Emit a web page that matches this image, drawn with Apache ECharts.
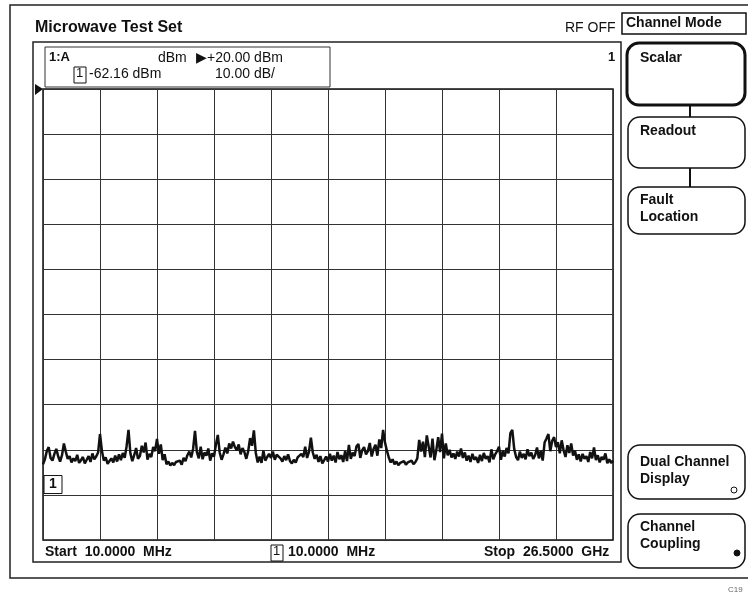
<!DOCTYPE html>
<html>
<head>
<meta charset="utf-8">
<title>Microwave Test Set</title>
<script src="https://cdn.jsdelivr.net/npm/echarts@6/dist/echarts.min.js"></script>
<style>
  html, body { margin: 0; padding: 0; background: #fff; }
  #chart { width: 748px; height: 598px; }
</style>
</head>
<body>
<div id="chart"></div>
<script>
// trace 1:A, dBm (301 points, start..stop)
var traceA = [
  -63.2, -62.1, -60.3, -59.4, -61.8, -62.4, -60.9, -59.8, -61.5, -62.6, -61.2, -58.6, -60.4, -62.0, -61.4, -62.8, -61.9, -62.5, -61.1, -62.9, -62.3, -61.6, -63.0, -62.2, -61.4, -62.7, -60.8, -62.1, -61.5, -60.6,
  -56.5, -60.2, -62.4, -61.7, -63.1, -62.5, -61.9, -62.8, -61.3, -62.6, -61.0, -62.3, -60.7, -61.8, -59.2, -55.6, -60.8, -62.5, -61.2, -59.6, -62.0, -61.4, -59.1, -60.6, -58.4, -62.2, -60.9, -61.6, -59.4, -60.3,
  -57.6, -60.9, -58.8, -62.3, -61.0, -63.2, -62.6, -63.5, -62.9, -63.4, -62.7, -63.1, -62.4, -63.3, -61.8, -62.5, -61.2, -60.4, -61.7, -59.8, -55.8, -60.5, -61.9, -59.3, -62.1, -60.6, -61.3, -59.7, -62.4, -60.8,
  -61.5, -58.9, -56.7, -60.6, -62.2, -61.0, -59.5, -60.8, -58.6, -59.7, -58.2, -59.4, -60.1, -58.8, -61.0, -59.6, -60.5, -62.0, -60.3, -57.4, -59.1, -55.7, -60.7, -62.8, -61.5, -62.9, -60.2, -62.4, -61.6, -60.9,
  -61.8, -60.4, -62.2, -61.1, -60.7, -61.9, -62.6, -61.4, -62.3, -61.0, -62.5, -63.0, -62.2, -62.8, -61.7, -62.1, -60.9, -61.6, -59.3, -61.8, -60.4, -57.3, -60.6, -62.0, -61.1, -62.7, -61.4, -63.0, -62.3, -61.5,
  -62.6, -60.9, -62.4, -61.3, -62.8, -60.5, -62.1, -61.2, -62.7, -60.3, -62.5, -58.9, -62.0, -60.6, -61.4, -59.2, -58.7, -61.8, -60.1, -59.4, -61.0, -60.3, -58.5, -61.5, -59.8, -58.9, -61.3, -57.7, -59.6, -55.6,
  -58.4, -60.2, -61.7, -62.8, -62.1, -63.2, -62.6, -63.4, -62.9, -63.1, -62.5, -63.3, -62.8, -63.0, -62.4, -63.2, -62.7, -61.9, -57.8, -60.4, -58.2, -61.6, -56.8, -59.3, -61.7, -57.5, -62.3, -60.1, -57.2, -60.5,
  -56.4, -61.9, -58.6, -61.2, -60.0, -61.7, -60.8, -62.0, -60.4, -61.5, -59.7, -61.8, -60.6, -62.4, -61.3, -62.7, -60.9, -62.2, -61.6, -62.9, -61.1, -62.5, -60.7, -62.0, -61.4, -62.8, -59.9, -62.1, -61.0, -60.3,
  -59.3, -62.2, -60.2, -61.5, -59.6, -60.8, -56.3, -55.6, -59.8, -61.6, -62.3, -60.4, -61.8, -60.9, -62.1, -59.9, -61.4, -60.6, -62.0, -61.2, -59.5, -61.9, -60.2, -62.4, -58.4, -57.5, -56.5, -60.3, -58.0, -57.2,
  -59.4, -58.3, -60.8, -57.9, -60.1, -61.6, -59.0, -60.7, -58.6, -61.3, -60.2, -62.2, -61.0, -62.6, -60.9, -62.0, -61.4, -62.7, -60.5, -61.9, -59.5, -62.3, -61.2, -62.8, -61.6, -62.2, -60.8, -63.0, -62.1, -62.9,
  -62.4
];

// screen scale: reference level at top, 10 dB per division
var refLevel = 20;
var scaleDiv = 10;
var divisions = 10;
var markerValue = -62.16;

// header / footer strings
var startLabel = 'Start  10.0000  MHz';
var markerFreqLabel = '10.0000  MHz';
var stopLabel = 'Stop  26.5000  GHz';

var font = '"Liberation Sans", Arial, sans-serif';

var myChart = echarts.init(document.getElementById('chart'), null, { renderer: 'canvas' });

var points = traceA.map(function (v, i) { return [i, v]; });
var lastIdx = traceA.length - 1;

// text helper
function txt(x, y, s, size, bold, extra) {
  var t = {
    type: 'text', left: x, top: y, z: 10,
    style: {
      text: s, fill: '#111',
      font: (bold ? 'bold ' : '') + size + 'px ' + font
    }
  };
  if (extra) { for (var k in extra) t.style[k] = extra[k]; }
  return t;
}

// soft key (rounded box)
function softKey(x, y, w, h, lw) {
  return {
    type: 'rect', z: 5,
    shape: { x: x, y: y, width: w, height: h, r: 12 },
    style: { fill: '#fff', stroke: '#111', lineWidth: lw }
  };
}

function line(x1, y1, x2, y2, lw) {
  return {
    type: 'line', z: 4,
    shape: { x1: x1, y1: y1, x2: x2, y2: y2 },
    style: { stroke: '#111', lineWidth: lw || 1 }
  };
}

var graphics = [
  // outer frame and screen frame
  { type: 'rect', z: 1, shape: { x: 10, y: 5, width: 745, height: 573 }, style: { fill: 'none', stroke: '#222', lineWidth: 1.5 } },
  { type: 'rect', z: 1, shape: { x: 33, y: 42, width: 588, height: 520 }, style: { fill: 'none', stroke: '#222', lineWidth: 1.5 } },
  // header box
  { type: 'rect', z: 2, shape: { x: 45, y: 47, width: 285, height: 40 }, style: { fill: 'none', stroke: '#333', lineWidth: 1 } },

  txt(35, 20, 'Microwave Test Set', 16, true),
  txt(565, 21, 'RF OFF', 14, false),
  { type: 'rect', z: 2, shape: { x: 622, y: 13, width: 124, height: 21 }, style: { fill: 'none', stroke: '#111', lineWidth: 1.5 } },
  txt(626, 16, 'Channel Mode', 14, true),

  txt(49, 51, '1:A', 13, true),
  txt(158, 51, 'dBm', 14, false),
  txt(196, 51, '\u25B6+' + refLevel.toFixed(2) + ' dBm', 14, false),
  { type: 'rect', z: 2, shape: { x: 74, y: 67, width: 12, height: 16 }, style: { fill: 'none', stroke: '#111', lineWidth: 1 } },
  txt(76, 67, '1', 13, false),
  txt(89, 67, markerValue.toFixed(2) + ' dBm', 14, false),
  txt(215, 67, scaleDiv.toFixed(2) + ' dB/', 14, false),
  txt(608, 51, '1', 13, true),

  // reference level arrow
  { type: 'polygon', z: 6, shape: { points: [[35, 84], [43, 89], [35, 95]] }, style: { fill: '#111' } },

  // footer
  txt(45, 545, startLabel, 14, true),
  { type: 'rect', z: 2, shape: { x: 271, y: 545, width: 12, height: 16 }, style: { fill: 'none', stroke: '#111', lineWidth: 1 } },
  txt(273, 545, '1', 13, false),
  txt(288, 545, markerFreqLabel, 14, true),
  txt(484, 545, stopLabel, 14, true),

  // soft keys
  softKey(627, 43, 118, 62, 3),
  line(690, 105, 690, 117, 2),
  softKey(628, 117, 117, 51, 1.5),
  line(690, 168, 690, 187, 2),
  softKey(628, 187, 117, 47, 1.5),
  txt(640, 51, 'Scalar', 14, true),
  txt(640, 124, 'Readout', 14, true),
  txt(640, 193, 'Fault', 14, true),
  txt(640, 210, 'Location', 14, true),

  softKey(628, 445, 117, 54, 1.5),
  txt(640, 455, 'Dual Channel', 14, true),
  txt(640, 472, 'Display', 14, true),
  { type: 'circle', z: 6, shape: { cx: 734, cy: 490, r: 3 }, style: { fill: '#fff', stroke: '#111', lineWidth: 1 } },

  softKey(628, 514, 117, 54, 1.5),
  txt(640, 520, 'Channel', 14, true),
  txt(640, 537, 'Coupling', 14, true),
  { type: 'circle', z: 6, shape: { cx: 737, cy: 553, r: 3 }, style: { fill: '#111', stroke: '#111', lineWidth: 1 } },

  txt(728, 586, 'C19', 8, false, { fill: '#666' })
];

myChart.setOption({
  animation: false,
  backgroundColor: '#fff',
  grid: {
    left: 43,
    right: 135,
    top: 89,
    bottom: 58,
    show: true,
    borderColor: '#111',
    borderWidth: 1.5,
    backgroundColor: 'transparent'
  },
  xAxis: {
    type: 'value',
    min: 0,
    max: lastIdx,
    interval: lastIdx / divisions,
    axisLine: { show: false },
    axisTick: { show: false },
    axisLabel: { show: false },
    splitLine: { show: true, lineStyle: { color: '#333', width: 1 } }
  },
  yAxis: {
    type: 'value',
    min: refLevel - scaleDiv * divisions,
    max: refLevel,
    interval: scaleDiv,
    axisLine: { show: false },
    axisTick: { show: false },
    axisLabel: { show: false },
    splitLine: { show: true, lineStyle: { color: '#333', width: 1 } }
  },
  series: [
    {
      name: '1:A',
      type: 'line',
      data: points,
      symbol: 'none',
      lineStyle: { color: '#111', width: 2.5 },
      z: 3,
      markPoint: {
        symbol: 'rect',
        symbolSize: [18, 18],
        symbolOffset: [10, 25],
        itemStyle: { color: '#fff', borderColor: '#111', borderWidth: 1 },
        label: {
          show: true, formatter: '1', color: '#111',
          fontFamily: font, fontSize: 14, fontWeight: 'bold'
        },
        data: [{ coord: [0, markerValue] }]
      }
    }
  ],
  graphic: graphics
});
</script>
</body>
</html>
